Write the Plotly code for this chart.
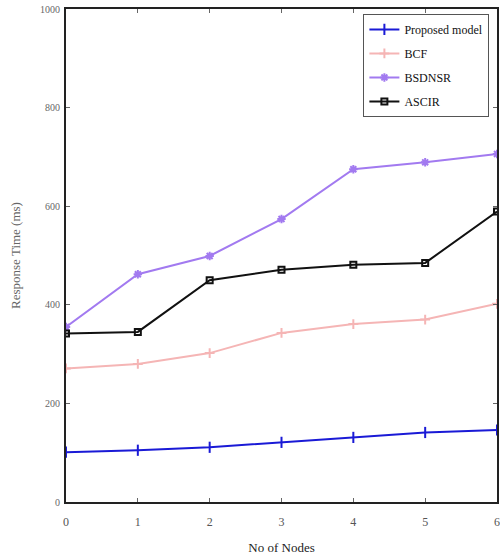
import plotly.graph_objects as go

nodes = [0, 1, 2, 3, 4, 5, 6]
proposed = [101, 105, 111, 121, 131, 141, 146]
bcf = [271, 280, 302, 343, 361, 370, 402]
bsdnsr = [355, 462, 499, 574, 675, 689, 706]
ascir = [342, 345, 450, 471, 481, 485, 589]
y_ticks = [0, 200, 400, 600, 800, 1000]

series = [
    ("Proposed model", proposed, "#1a1ad6", "line-ns", 8),
    ("BCF", bcf, "#f5b5b5", "cross-thin", 7),
    ("BSDNSR", bsdnsr, "#a27af0", "asterisk", 7),
    ("ASCIR", ascir, "#111111", "square-open", 6),
]

fig = go.Figure()
for name, vals, color, sym, size in series:
    fig.add_trace(go.Scatter(
        x=nodes, y=vals, name=name, mode="lines+markers",
        legendgroup=name,
        line=dict(color=color, width=2),
        marker=dict(symbol=sym, size=size, color=color,
                    line=dict(color=color, width=2)),
    ))

fig.update_layout(
    width=500, height=558,
    margin=dict(l=66, r=1, t=9, b=56),
    paper_bgcolor="white", plot_bgcolor="white",
    font=dict(family="Liberation Serif", color="#444"),
    showlegend=True,
    legend=dict(
        x=0.69, y=0.99, xanchor="left", yanchor="top",
        bgcolor="white", bordercolor="#555", borderwidth=1,
        font=dict(family="Liberation Serif", size=12, color="#111"),
        tracegroupgap=5, itemwidth=30,
    ),
)
fig.update_xaxes(
    range=[0, 6], tickmode="array", tickvals=nodes,
    showgrid=False, zeroline=False,
    showline=True, linecolor="#222", linewidth=2, mirror="ticks",
    ticks="inside", ticklen=4, tickcolor="#666",
    ticklabelstandoff=8,
    tickfont=dict(size=12, color="#555"),
    title=dict(text="No of Nodes", font=dict(size=13, color="#222"), standoff=14),
)
fig.update_yaxes(
    range=[0, 1000], tickmode="array", tickvals=y_ticks,
    showgrid=False, zeroline=False,
    showline=True, linecolor="#222", linewidth=2, mirror="ticks",
    ticks="inside", ticklen=4, tickcolor="#666",
    ticklabelstandoff=2,
    tickfont=dict(size=10, color="#666"),
    title=dict(text="Response Time (ms)", font=dict(size=13, color="#666"), standoff=16),
)

fig.write_html("out.html")
